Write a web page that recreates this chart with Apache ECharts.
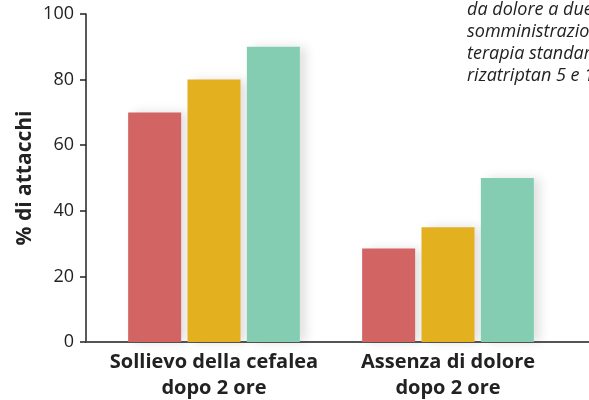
<!DOCTYPE html>
<html>
<head>
<meta charset="utf-8">
<script src="https://cdn.jsdelivr.net/npm/echarts@6/dist/echarts.min.js"></script>
<style>
  html, body { margin: 0; padding: 0; background: #fff; }
</style>
</head>
<body>
<div id="chart" style="width: 589px; height: 400px"></div>
<script>
// dati
const categorie = ["Sollievo della cefalea\ndopo 2 ore", "Assenza di dolore\ndopo 2 ore"];
const serieRossa = [70, 28.5];
const serieGialla = [80, 35];
const serieVerde = [90, 50];
const yTicks = [0, 20, 40, 60, 80, 100];
const noteRighe = ["da dolore a due ore", "somministrazione", "terapia standard", "rizatriptan 5 e 10 mg"];

const myChart = echarts.init(document.getElementById("chart"));
const font = "Open Sans";

const ombra = {
  shadowColor: "rgba(0,0,0,0.12)",
  shadowBlur: 10,
  shadowOffsetX: 6
};

const option = {
  animation: false,
  textStyle: { fontFamily: font },
  grid: [
    // griglia delle barre
    { left: 97, right: 24, top: 14, bottom: 58, outerBoundsMode: "none" },
    // griglia per gli assi
    { left: 86, right: 0, top: 14, bottom: 58, outerBoundsMode: "none" }
  ],
  graphic: noteRighe.map((t, i) => ({
    type: "text",
    left: 467,
    top: 1 + i * 22,
    style: {
      text: t,
      font: "italic 18px 'Open Sans'",
      fill: "#222"
    }
  })),
  xAxis: [
    {
      type: "category",
      gridIndex: 0,
      data: categorie,
      axisLine: { show: false },
      axisTick: { show: false },
      axisLabel: {
        interval: 0,
        hideOverlap: false,
        fontFamily: font,
        fontWeight: "bold",
        fontSize: 20,
        color: "#222",
        lineHeight: 26,
        margin: 7
      }
    },
    {
      type: "value",
      gridIndex: 1,
      min: 0,
      max: 1,
      axisLine: { show: true, onZero: false, lineStyle: { color: "#555", width: 2 } },
      axisTick: { show: false },
      axisLabel: { show: false },
      splitLine: { show: false }
    }
  ],
  yAxis: [
    {
      type: "value",
      gridIndex: 0,
      min: 0,
      max: 100,
      show: false
    },
    {
      type: "value",
      gridIndex: 1,
      min: 0,
      max: 100,
      interval: 20,
      name: "% di attacchi",
      nameLocation: "middle",
      nameGap: 50,
      nameMoveOverlap: false,
      nameTextStyle: {
        fontFamily: font,
        fontWeight: "bold",
        fontSize: 21,
        color: "#222"
      },
      axisLine: { show: true, lineStyle: { color: "#222", width: 1.5 } },
      axisTick: { show: true, length: 6, lineStyle: { color: "#222", width: 1.5 } },
      axisLabel: {
        fontFamily: font,
        fontSize: 18,
        color: "#222",
        margin: 12,
        formatter: v => (yTicks.includes(v) ? String(v) : "")
      },
      splitLine: { show: false }
    }
  ],
  series: [
    {
      name: "rosso",
      type: "bar",
      xAxisIndex: 0,
      yAxisIndex: 0,
      barWidth: 53,
      barGap: "12%",
      itemStyle: Object.assign({ color: "#d26463" }, ombra),
      data: serieRossa
    },
    {
      name: "giallo",
      type: "bar",
      xAxisIndex: 0,
      yAxisIndex: 0,
      barWidth: 53,
      barGap: "12%",
      itemStyle: Object.assign({ color: "#e3b020" }, ombra),
      data: serieGialla
    },
    {
      name: "verde",
      type: "bar",
      xAxisIndex: 0,
      yAxisIndex: 0,
      barWidth: 53,
      barGap: "12%",
      itemStyle: Object.assign({ color: "#84cdb3" }, ombra),
      data: serieVerde
    }
  ]
};

myChart.setOption(option);
</script>
</body>
</html>
